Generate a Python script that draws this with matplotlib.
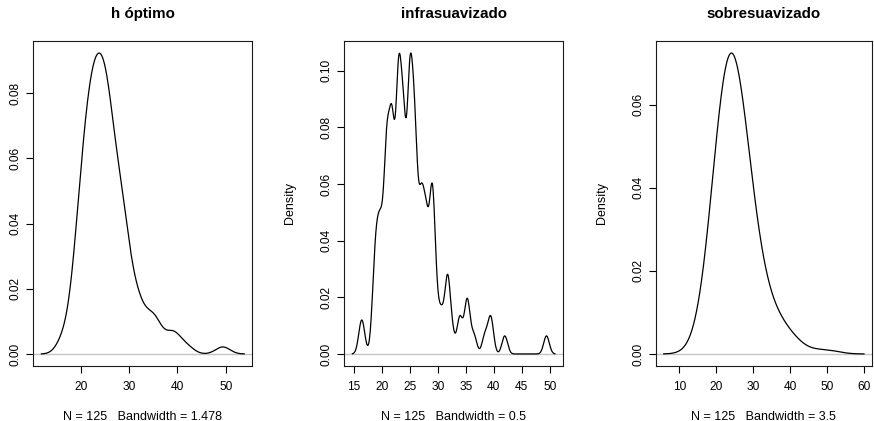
import numpy as np
import matplotlib
matplotlib.use('Agg')
import matplotlib.pyplot as plt
import seaborn as sns
from matplotlib.ticker import FormatStrFormatter

plt.rcParams['font.family'] = ['Liberation Sans', 'DejaVu Sans']

# sample (n = 125) read back from the three density curves
sample = [16.25, 16.60, 18.65, 18.65, 18.65, 19.20, 19.20, 19.20, 19.25, 19.90, 19.90, 19.90, 19.90, 19.95,
          20.85, 20.85, 20.85, 20.85, 20.90, 20.90, 20.90, 20.90, 20.90, 20.90,
          21.80, 21.80, 21.80, 21.80, 21.80, 21.85, 21.85, 21.85, 21.85, 21.85, 21.85,
          22.90, 22.90, 22.90, 22.90, 22.90, 22.95, 22.95, 22.95, 22.95, 23.00, 23.00, 23.00, 23.00, 23.50,
          23.80, 23.80, 23.80, 23.85, 23.85, 23.90, 23.90, 23.90, 23.95, 23.95,
          24.75, 24.80, 24.85, 24.90, 24.90, 24.95, 25.00, 25.00, 25.05, 25.05, 25.10, 25.15, 25.20, 25.30,
          25.70, 25.75, 25.80, 25.85, 25.90, 25.90, 25.95, 26.00, 26.05, 26.10, 26.45,
          26.95, 27.00, 27.05, 27.10, 27.10, 27.15, 27.15, 27.90, 27.90, 27.95, 27.95, 27.95, 28.00,
          28.95, 28.95, 28.95, 29.00, 29.00, 29.00, 29.00, 29.05, 29.65, 29.70, 30.60, 30.60,
          31.70, 31.70, 31.75, 31.75, 32.55, 33.90, 33.95, 35.15, 35.30, 35.30, 36.45, 38.40, 39.45, 39.45,
          41.95, 49.40]

titles = ['h óptimo', 'infrasuavizado', 'sobresuavizado']
bandwidths = [1.478, 0.5, 3.5]
bw_text = ['1.478', '0.5', '3.5']
xticks = [[20, 30, 40, 50], [15, 20, 25, 30, 35, 40, 45, 50], [10, 20, 30, 40, 50, 60]]

sd = np.std(sample, ddof=1)

W, H = 874, 421
fig = plt.figure(figsize=(W / 100, H / 100), dpi=100)

# box edges in pixels (left, right); top 41, bottom 366
boxes = [(33.3, 252.3), (344.3, 563.0), (655.7, 872.0)]

for i in range(3):
    x0, x1 = boxes[i]
    wpx = x1 - x0
    ax = fig.add_axes([x0 / W, 55 / H, wpx / W, 325 / H])
    sns.kdeplot(x=sample, bw_method=bandwidths[i] / sd, cut=3, gridsize=512,
                color='black', linewidth=0.9, ax=ax)
    ax.axhline(0, color='#c4c4c4', linewidth=1.0, zorder=1)
    ax.use_sticky_edges = False
    ax.margins(x=0.04, y=0.04)
    ax.autoscale_view()

    ax.set_xticks(xticks[i])
    ax.yaxis.set_major_locator(plt.MultipleLocator(0.02))
    ax.yaxis.set_major_formatter(FormatStrFormatter('%.2f'))
    ax.tick_params(direction='out', length=5.0, width=0.8, labelsize=8.6, color='black')
    ax.tick_params(axis='x', pad=5.8)
    ax.tick_params(axis='y', pad=3.2, labelrotation=90)
    for lab in ax.get_yticklabels():
        lab.set_va('center')
    for s in ax.spines.values():
        s.set_linewidth(0.8)
        s.set_color('#1a1a1a')

    ax.set_title(titles[i], fontsize=10.9, fontweight='bold', pad=16.3)
    ax.set_xlabel('N = %d   Bandwidth = %s' % (len(sample), bw_text[i]), fontsize=9, va='baseline')
    ax.xaxis.set_label_coords(0.5, -(419.5 - 366) / 325)
    if i > 0:
        ax.set_ylabel('Density', fontsize=9, va='center')
        ax.yaxis.set_label_coords(-54.0 / wpx, 0.5)
    else:
        ax.set_ylabel('')

fig.savefig('out.png', dpi=100)
